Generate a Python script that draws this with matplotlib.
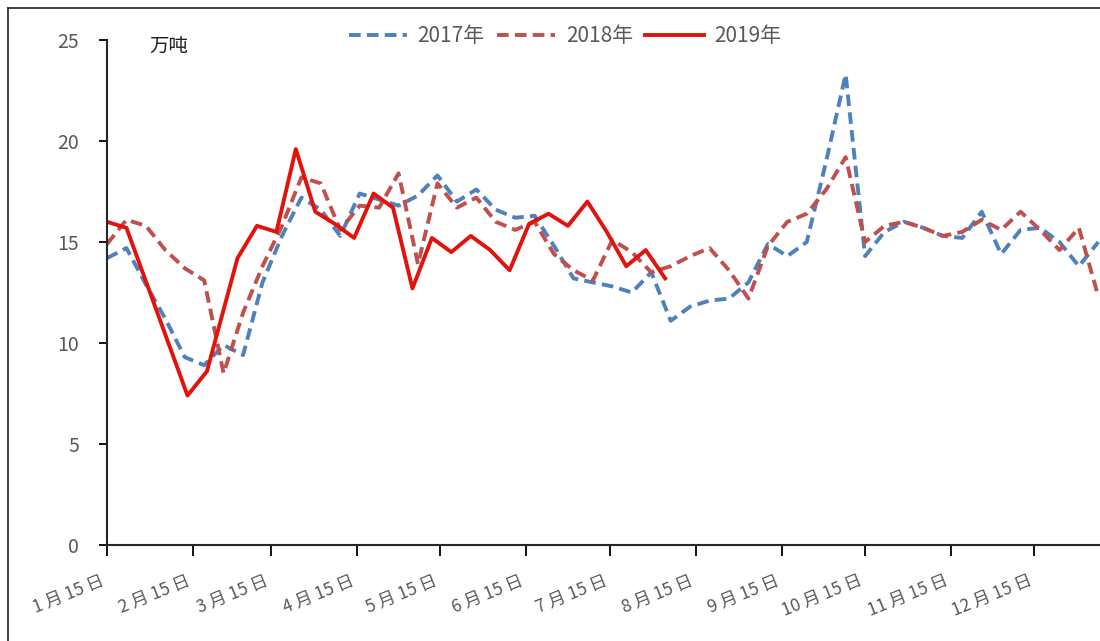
import numpy as np
import matplotlib
matplotlib.use("Agg")
import matplotlib.pyplot as plt
from matplotlib.lines import Line2D

plt.rcParams['font.family'] = ['Noto Sans CJK SC', 'DejaVu Sans']

# x values are day-of-year
days_17_18 = [15 + 7 * i for i in range(52)]
v2017 = [14.2, 14.7, 12.9, 11.2, 9.3, 8.9, 9.9, 9.4, 13.0, 15.3,
         17.2, 16.6, 15.3, 17.4, 17.1, 16.8, 17.3, 18.3, 17.0, 17.6,
         16.6, 16.2, 16.3, 14.8, 13.2, 13.0, 12.8, 12.5, 13.5, 11.1,
         11.8, 12.1, 12.2, 13.0, 14.9, 14.3, 15.0, 19.0, 23.3, 14.3,
         15.5, 16.0, 15.7, 15.3, 15.2, 16.5, 14.4, 15.6, 15.7, 15.0,
         13.8, 15.0]
v2018 = [14.9, 16.1, 15.8, 14.6, 13.7, 13.1, 8.5, 11.5, 13.8, 15.8,
         18.2, 17.9, 15.6, 16.8, 16.7, 18.4, 13.9, 17.9, 16.7, 17.2,
         16.0, 15.6, 16.0, 14.4, 13.6, 13.1, 15.1, 14.5, 13.5, 13.8,
         14.3, 14.7, 13.6, 12.2, 14.8, 16.0, 16.4, 17.6, 19.2, 15.0,
         15.8, 16.0, 15.7, 15.3, 15.5, 16.1, 15.6, 16.5, 15.6, 14.6,
         15.7, 12.3]
days_19 = [15, 22, 44, 51, 62, 69, 76, 83, 90, 97, 104, 111, 118, 125,
           132, 139, 146, 153, 160, 167, 174, 181, 188, 195, 202, 209, 216]
v2019 = [16.0, 15.7, 7.4, 8.6, 14.2, 15.8, 15.5, 19.6, 16.5, 15.9, 15.2,
         17.4, 16.7, 12.7, 15.2, 14.5, 15.3, 14.6, 13.6, 15.9, 16.4,
         15.8, 17.0, 15.5, 13.8, 14.6, 13.2]

tick_days = [15, 46, 74, 105, 135, 166, 196, 227, 258, 288, 319, 349]
tick_labels = ['1 月 15 日', '2 月 15 日', '3 月 15 日', '4 月 15 日', '5 月 15 日',
               '6 月 15 日', '7 月 15 日', '8 月 15 日', '9 月 15 日', '10 月 15 日',
               '11 月 15 日', '12 月 15 日']

fig = plt.figure(figsize=(11, 6.41), dpi=100)
ax = fig.add_axes([107 / 1100, 96 / 641, 1 - 107 / 1100, 505 / 641])

dash = (0, (3, 1.6))
l17, = ax.plot(days_17_18, v2017, color='#4f81bd', lw=2.8, ls=dash, label='2017年')
l18, = ax.plot(days_17_18, v2018, color='#c0504d', lw=2.8, ls=dash, label='2018年')
l19, = ax.plot(days_19, v2019, color='#e3120b', lw=2.8, label='2019年')

ax.set_xlim(15, 372.6)
ax.set_ylim(0, 25)
ax.set_yticks(range(0, 26, 5))
ax.set_xticks(tick_days)
ax.set_xticklabels(tick_labels, rotation=22, ha='right', va='top',
                   fontsize=12.5, color='#595959')
for lab in ax.get_yticklabels():
    lab.set_fontsize(14)
    lab.set_color('#595959')
ax.tick_params(axis='y', direction='out', length=6, width=1.3, pad=14)
ax.tick_params(axis='x', direction='out', length=8, width=1.3, pad=11)

for s in ['top', 'right']:
    ax.spines[s].set_visible(False)
for s in ['left', 'bottom']:
    ax.spines[s].set_linewidth(1.5)
    ax.spines[s].set_color('#262626')

ax.text(0.043, 0.988, '万吨', transform=ax.transAxes, fontsize=14,
        ha='left', va='center', color='#222222')

fig.legend(handles=[l17, l18, l19], loc='center',
           bbox_to_anchor=(565 / 1100, 1 - 36 / 641), ncol=3, frameon=False,
           fontsize=15, handlelength=2.8, columnspacing=0.6, handletextpad=0.5,
           labelcolor='#595959')

# outer frame
fig.add_artist(Line2D([8 / 1100, 1.0], [1 - 8 / 641, 1 - 8 / 641],
                      transform=fig.transFigure, color='#222222', lw=1.2))
fig.add_artist(Line2D([8 / 1100, 8 / 1100], [1 - 8 / 641, 0.0],
                      transform=fig.transFigure, color='#222222', lw=1.2))

fig.savefig('out.png', dpi=100)
